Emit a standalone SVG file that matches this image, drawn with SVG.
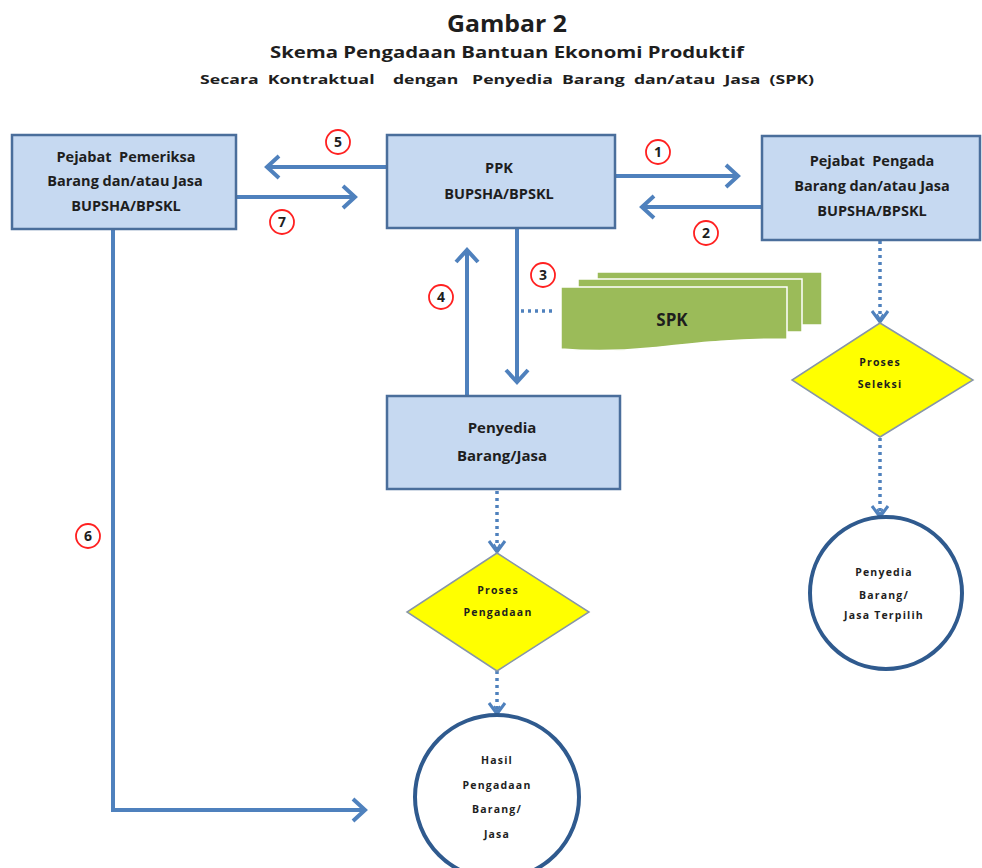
<svg xmlns="http://www.w3.org/2000/svg" width="982" height="868" viewBox="0 0 982 868">
  <style>
    .t { font-family: "Open Sans", "Liberation Sans", sans-serif; font-weight: bold; fill: #1e1e1e; text-anchor: middle; }
    .bt { font-size: 14.5px; }
    .st { font-size: 10.5px; letter-spacing: 1.2px; }
    .box { fill: #C6D9F1; stroke: #4A6E9B; stroke-width: 2.5; }
    .dia { fill: #FFFF00; stroke: #8796A8; stroke-width: 1.5; }
    .circ { fill: #ffffff; stroke: #2F5A8E; stroke-width: 4; }
    .flow { fill: none; stroke: #4F81BD; stroke-width: 4; }
    .dot { fill: none; stroke: #4F81BD; stroke-width: 3.5; stroke-dasharray: 3 4; }
    .num { fill: #ffffff; stroke: #FF2020; stroke-width: 1.8; }
    .numt { font-family: "Open Sans", "Liberation Sans", sans-serif; font-weight: bold; font-size: 14px; fill: #1e1e1e; text-anchor: middle; }
    .spk { fill: #9BBB59; stroke: #ffffff; stroke-width: 1.5; }
  </style>
  <defs>
    <marker id="chev" markerUnits="userSpaceOnUse" markerWidth="24" markerHeight="24" refX="14" refY="10" orient="auto" overflow="visible">
      <path d="M2,-1 L14,10 L2,21" fill="none" stroke="#4F81BD" stroke-width="4" stroke-linejoin="miter"/>
    </marker>
    <marker id="chevs" markerUnits="userSpaceOnUse" markerWidth="20" markerHeight="20" refX="12" refY="8" orient="auto" overflow="visible">
      <path d="M1,0 L12,8 L1,16" fill="none" stroke="#4F81BD" stroke-width="3"/>
      <path d="M4,5 L9,8 L4,11" fill="none" stroke="#4F81BD" stroke-width="1.5"/>
    </marker>
  </defs>

  <!-- heading -->
  <g id="title">
    <text class="t" x="507" y="32" font-size="23" textLength="120" lengthAdjust="spacingAndGlyphs">Gambar 2</text>
    <text class="t" x="507" y="58" font-size="16" textLength="474" lengthAdjust="spacingAndGlyphs">Skema Pengadaan Bantuan Ekonomi Produktif</text>
    <text class="t" x="507" y="84" font-size="13" textLength="614" lengthAdjust="spacingAndGlyphs" xml:space="preserve">Secara  Kontraktual    dengan   Penyedia  Barang  dan/atau  Jasa  (SPK)</text>
  </g>

  <!-- connectors -->
  <g id="connectors">
    <line class="flow" x1="387" y1="167" x2="267" y2="167" marker-end="url(#chev)"/>
    <line class="flow" x1="236" y1="197" x2="355" y2="197" marker-end="url(#chev)"/>
    <line class="flow" x1="615" y1="176" x2="738" y2="176" marker-end="url(#chev)"/>
    <line class="flow" x1="762" y1="207" x2="642" y2="207" marker-end="url(#chev)"/>
    <line class="flow" x1="517" y1="229" x2="517" y2="382" marker-end="url(#chev)"/>
    <line class="flow" x1="467" y1="396" x2="467" y2="250" marker-end="url(#chev)"/>
    <polyline class="flow" points="113,229 113,810 365,810" marker-end="url(#chev)"/>
    <line class="dot" x1="521" y1="311" x2="556" y2="311"/>
    <line class="dot" x1="497" y1="491" x2="497" y2="552" marker-end="url(#chevs)"/>
    <line class="dot" x1="497" y1="671" x2="497" y2="714" marker-end="url(#chevs)"/>
    <line class="dot" x1="880" y1="241" x2="880" y2="322" marker-end="url(#chevs)"/>
    <line class="dot" x1="880" y1="438" x2="880" y2="517" marker-end="url(#chevs)"/>
  </g>

  <!-- step numbers -->
  <g id="steps">
    <circle class="num" cx="338" cy="142" r="12"/><text class="numt" x="338" y="147">5</text>
    <circle class="num" cx="282" cy="222" r="12"/><text class="numt" x="282" y="227">7</text>
    <circle class="num" cx="658" cy="152" r="12"/><text class="numt" x="658" y="157">1</text>
    <circle class="num" cx="706" cy="233" r="12"/><text class="numt" x="706" y="238">2</text>
    <circle class="num" cx="543" cy="275" r="12"/><text class="numt" x="543" y="280">3</text>
    <circle class="num" cx="441" cy="297" r="12"/><text class="numt" x="441" y="302">4</text>
    <circle class="num" cx="88" cy="536" r="12"/><text class="numt" x="88" y="541">6</text>
  </g>

  <g id="pemeriksa">
    <rect class="box" x="12" y="135" width="224" height="94"/>
    <text class="t bt" x="126" y="162" xml:space="preserve">Pejabat  Pemeriksa</text>
    <text class="t bt" x="125" y="186">Barang dan/atau Jasa</text>
    <text class="t bt" x="126" y="211">BUPSHA/BPSKL</text>
  </g>

  <g id="ppk">
    <rect class="box" x="387" y="135" width="228" height="93"/>
    <text class="t bt" x="499" y="173">PPK</text>
    <text class="t bt" x="499" y="199">BUPSHA/BPSKL</text>
  </g>

  <g id="pengada">
    <rect class="box" x="762" y="136" width="218" height="104"/>
    <text class="t bt" x="872" y="166" xml:space="preserve">Pejabat  Pengada</text>
    <text class="t bt" x="872" y="191">Barang dan/atau Jasa</text>
    <text class="t bt" x="872" y="216">BUPSHA/BPSKL</text>
  </g>

  <g id="spk">
    <path class="spk" d="M597,272 H822 V325 H597 Z"/>
    <path class="spk" d="M578,279 H802 V332 H578 Z"/>
    <path class="spk" d="M561,287 H787 V339 C730,339 690,344 650,348 C610,352 585,351 561,349 Z"/>
    <text class="t" font-size="17" x="672" y="326">SPK</text>
  </g>

  <g id="penyedia">
    <rect class="box" x="387" y="396" width="233" height="93"/>
    <text class="t" font-size="15" x="502" y="433">Penyedia</text>
    <text class="t" font-size="15" x="502" y="461">Barang/Jasa</text>
  </g>

  <g id="proses-pengadaan">
    <polygon class="dia" points="497,553 589,612 497,671 407,612"/>
    <text class="t st" x="498" y="594">Proses</text>
    <text class="t st" x="498" y="616">Pengadaan</text>
  </g>

  <g id="hasil">
    <circle class="circ" cx="497" cy="797" r="82"/>
    <text class="t st" x="497" y="764">Hasil</text>
    <text class="t st" x="497" y="789">Pengadaan</text>
    <text class="t st" x="497" y="813">Barang/</text>
    <text class="t st" x="497" y="838">Jasa</text>
  </g>

  <g id="proses-seleksi">
    <polygon class="dia" points="880,323 973,380 880,437 792,380"/>
    <text class="t st" x="880" y="366">Proses</text>
    <text class="t st" x="880" y="388">Seleksi</text>
  </g>

  <g id="terpilih">
    <circle class="circ" cx="886" cy="593" r="76"/>
    <text class="t st" x="884" y="576">Penyedia</text>
    <text class="t st" x="884" y="599">Barang/</text>
    <text class="t st" x="884" y="619">Jasa Terpilih</text>
  </g>
</svg>
